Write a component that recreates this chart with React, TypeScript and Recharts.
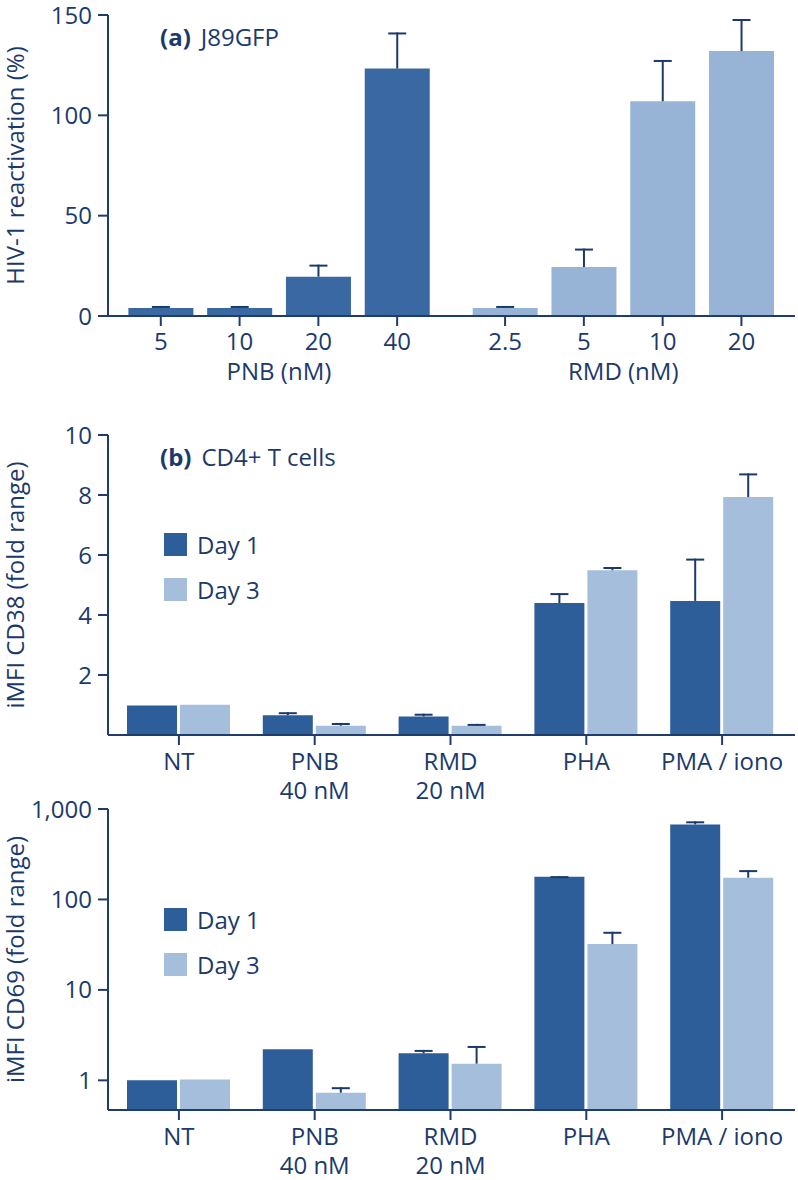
import React from "react";
import { BarChart, Bar, Cell, XAxis, YAxis, Legend } from "recharts";

const FONT = "'Open Sans', sans-serif";
const INK = "#1b3a6b";
const AXIS = "#1e3c6c";
const FS = 24;

// panel (a)
const doseX = [0, 1, 2, 3, 4.37, 5.37, 6.37, 7.37];
const doseLabels = ["5", "10", "20", "40", "2.5", "5", "10", "20"];
const doseDrug = ["PNB", "PNB", "PNB", "PNB", "RMD", "RMD", "RMD", "RMD"];
const reactivation = [4, 4, 19.6, 123.3, 4, 24.4, 107, 132];
const reactivationErr = [1, 1, 6, 18, 1, 9.2, 20.6, 16];
const groupX = [1.5, 5.87];
const groupLabels = ["PNB (nM)", "RMD (nM)"];
const drugColors: Record<string, string> = { PNB: "#3a68a2", RMD: "#97b3d6" };

// panels (b) and (c)
const catTop = ["NT", "PNB", "RMD", "PHA", "PMA / iono"];
const catSub = ["", "40 nM", "20 nM", "", ""];
const days = ["Day 1", "Day 3"];
const dayColors = ["#2d5e9a", "#a4bedc"];
const cd38Day1 = [0.98, 0.66, 0.62, 4.4, 4.47];
const cd38Day1Err = [0, 0.1, 0.09, 0.33, 1.41];
const cd38Day3 = [1.01, 0.31, 0.31, 5.49, 7.93];
const cd38Day3Err = [0, 0.09, 0.06, 0.11, 0.79];
const cd69Day1 = [1.0, 2.2, 1.99, 178, 676];
const cd69Day1Err = [0, 0, 0.18, 3, 55];
const cd69Day3 = [1.02, 0.73, 1.53, 32.1, 174];
const cd69Day3Err = [0, 0.11, 0.87, 11.8, 37];

const doseRows = doseX.map((x, i) => ({
  x,
  drug: doseDrug[i],
  value: reactivation[i],
  err: reactivationErr[i],
}));

const makeRows = (d1: number[], e1: number[], d3: number[], e3: number[]) =>
  catTop.map((cat, i) => ({ cat, d1: d1[i], e1: e1[i], d3: d3[i], e3: e3[i] }));

const cd38Rows = makeRows(cd38Day1, cd38Day1Err, cd38Day3, cd38Day3Err);
const cd69Rows = makeRows(cd69Day1, cd69Day1Err, cd69Day3, cd69Day3Err);

// error whisker drawn on top of the stacked segment
const ErrorCap = (props: any) => {
  const { x, y, width, height } = props;
  if (!isFinite(y) || !isFinite(height) || height <= 0) return null;
  const cx = x + width / 2;
  return (
    <g>
      <line x1={cx} x2={cx} y1={y} y2={y + height} stroke={INK} strokeWidth={2} />
      <line x1={cx - 9} x2={cx + 9} y1={y + 1} y2={y + 1} stroke={INK} strokeWidth={2} />
    </g>
  );
};

const YTitle = ({ viewBox, text }: any) => {
  const cy = viewBox.y + viewBox.height / 2;
  return (
    <text
      x={14}
      y={cy}
      transform={`rotate(-90, 14, ${cy})`}
      textAnchor="middle"
      dominantBaseline="central"
      fill={INK}
      fontSize={FS}
      fontFamily={FONT}
    >
      {text}
    </text>
  );
};

const DoseTick = ({ x, y, payload }: any) => (
  <text x={x} y={y + 24} textAnchor="middle" fill={INK} fontSize={FS} fontFamily={FONT}>
    {doseLabels[doseX.indexOf(payload.value)]}
  </text>
);

const GroupTick = ({ x, y, payload }: any) => (
  <text x={x} y={y + 24} textAnchor="middle" fill={INK} fontSize={FS} fontFamily={FONT}>
    {groupLabels[groupX.indexOf(payload.value)]}
  </text>
);

const CatTick = ({ x, y, payload }: any) => {
  const i = catTop.indexOf(payload.value);
  return (
    <text textAnchor="middle" fill={INK} fontSize={FS} fontFamily={FONT}>
      <tspan x={x} y={y + 25}>{payload.value}</tspan>
      {catSub[i] ? <tspan x={x} y={y + 54}>{catSub[i]}</tspan> : null}
    </text>
  );
};

const DayLegend = () => (
  <div style={{ fontFamily: FONT, fontSize: FS, color: INK }}>
    {days.map((d, i) => (
      <div key={d} style={{ display: "flex", alignItems: "center", height: 23, marginBottom: i === 0 ? 22 : 0 }}>
        <span style={{ width: 23, height: 23, background: dayColors[i], display: "inline-block", marginRight: 10 }} />
        <span style={{ lineHeight: "23px" }}>{d}</span>
      </div>
    ))}
  </div>
);

const tickStyle = { fill: INK, fontSize: FS, fontFamily: FONT };
const axisLine = { stroke: AXIS, strokeWidth: 2 };
const tickLine = { stroke: AXIS, strokeWidth: 2 };

const PanelTitle = ({ y, tag, text }: { y: number; tag: string; text: string }) => (
  <text x={160} y={y} fill={INK} fontSize={FS} fontFamily={FONT}>
    <tspan fontWeight={700}>{tag}</tspan>
    <tspan dx={10}>{text}</tspan>
  </text>
);

const GroupedPanel = ({ rows, log, title }: { rows: any[]; log: boolean; title: string }) => (
  <BarChart
    width={798}
    height={log ? 390 : 420}
    data={rows}
    margin={log ? { top: 19, right: 3, left: 0, bottom: 10 } : { top: 35, right: 3, left: 0, bottom: 25 }}
    barGap={3}
  >
    <XAxis
      dataKey="cat"
      interval={0}
      tick={<CatTick />}
      tickSize={10}
      tickMargin={0}
      height={60}
      axisLine={axisLine}
      tickLine={tickLine}
      padding={{ left: 3, right: 5 }}
    />
    {log ? (
      <YAxis
        scale="log"
        domain={[0.47, 1000]}
        allowDataOverflow
        ticks={[1, 10, 100, 1000]}
        tickFormatter={(v: number) => v.toLocaleString("en-US")}
        width={108}
        tickSize={10}
        tickMargin={6}
        tick={tickStyle}
        axisLine={axisLine}
        tickLine={tickLine}
        label={{ content: (p: any) => <YTitle viewBox={p.viewBox} text={title} /> }}
      />
    ) : (
      <YAxis
        domain={[0, 10]}
        ticks={[2, 4, 6, 8, 10]}
        width={108}
        tickSize={10}
        tickMargin={6}
        tick={tickStyle}
        axisLine={axisLine}
        tickLine={tickLine}
        label={{ content: (p: any) => <YTitle viewBox={p.viewBox} text={title} /> }}
      />
    )}
    <Legend
      content={<DayLegend />}
      layout="horizontal"
      verticalAlign="middle"
      align="center"
      wrapperStyle={{ left: 164, top: log ? 118 : 133, width: 170 }}
    />
    <Bar dataKey="d1" name="Day 1" stackId="d1" barSize={50} fill={dayColors[0]} isAnimationActive={false} />
    <Bar dataKey="e1" stackId="d1" barSize={50} fill="none" legendType="none" shape={<ErrorCap />} isAnimationActive={false} />
    <Bar dataKey="d3" name="Day 3" stackId="d3" barSize={50} fill={dayColors[1]} isAnimationActive={false} />
    <Bar dataKey="e3" stackId="d3" barSize={50} fill="none" legendType="none" shape={<ErrorCap />} isAnimationActive={false} />
  </BarChart>
);

export default function App() {
  return (
    <div style={{ position: "fixed", left: 0, top: 0, width: 798, height: 1180, background: "#fff", overflow: "hidden" }}>
      <div style={{ position: "absolute", left: 0, top: 0 }}>
        <BarChart width={798} height={400} data={doseRows} margin={{ top: 15, right: 3, left: 0, bottom: 14 }}>
          <XAxis
            type="number"
            dataKey="x"
            domain={[-0.67, 8.05]}
            allowDataOverflow
            ticks={doseX}
            interval={0}
            tick={<DoseTick />}
            tickSize={10}
            tickMargin={0}
            height={40}
            axisLine={axisLine}
            tickLine={tickLine}
          />
          <XAxis
            xAxisId="grp"
            type="number"
            dataKey="x"
            domain={[-0.67, 8.05]}
            allowDataOverflow
            ticks={groupX}
            interval={0}
            tick={<GroupTick />}
            tickSize={0}
            tickMargin={0}
            height={30}
            axisLine={false}
            tickLine={false}
          />
          <YAxis
            domain={[0, 150]}
            ticks={[0, 50, 100, 150]}
            width={108}
            tickSize={10}
            tickMargin={6}
            tick={tickStyle}
            axisLine={axisLine}
            tickLine={tickLine}
            label={{ content: (p: any) => <YTitle viewBox={p.viewBox} text="HIV-1 reactivation (%)" /> }}
          />
          <Bar dataKey="value" stackId="a" barSize={65} isAnimationActive={false}>
            {doseRows.map((r, i) => (
              <Cell key={i} fill={drugColors[r.drug]} />
            ))}
          </Bar>
          <Bar dataKey="err" stackId="a" barSize={65} fill="none" shape={<ErrorCap />} isAnimationActive={false} />
        </BarChart>
      </div>
      <div style={{ position: "absolute", left: 0, top: 400 }}>
        <GroupedPanel rows={cd38Rows} log={false} title="iMFI CD38 (fold range)" />
      </div>
      <div style={{ position: "absolute", left: 0, top: 790 }}>
        <GroupedPanel rows={cd69Rows} log={true} title="iMFI CD69 (fold range)" />
      </div>
      <svg width={798} height={1180} style={{ position: "absolute", left: 0, top: 0, pointerEvents: "none" }}>
        <PanelTitle y={46} tag="(a)" text="J89GFP" />
        <PanelTitle y={466} tag="(b)" text="CD4+ T cells" />
      </svg>
    </div>
  );
}
